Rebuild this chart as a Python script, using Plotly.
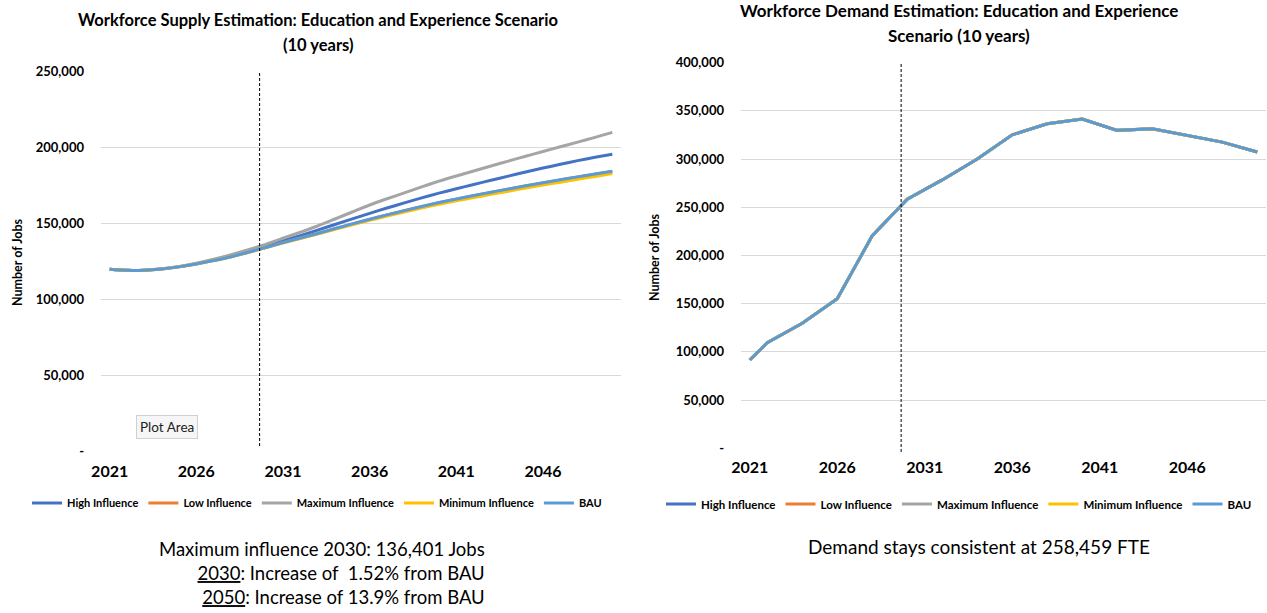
import plotly.graph_objects as go

W, H = 1267, 613

# ---------------- data ----------------
years = list(range(2021, 2051))
series_names = ["High Influence", "Low Influence", "Maximum Influence", "Minimum Influence", "BAU"]
series_colors = ["#4472C4", "#ED7D31", "#A5A5A5", "#FFC000", "#5B9BD5"]

supply_high = [120000, 119300, 119420, 120280, 121750, 123750, 126200, 128900, 132000, 135400,
               138700, 142200, 145800, 149500, 153200, 156800, 160300, 163700, 167000, 170100,
               173000, 175800, 178600, 181300, 184000, 186600, 189100, 191500, 193700, 195700]
supply_low = [120000, 119300, 119400, 120200, 121600, 123500, 125800, 128300, 131200, 134350,
              137550, 140550, 143550, 146700, 149800, 152800, 155700, 158500, 161200, 163800,
              166100, 168400, 170600, 172700, 174800, 176800, 178800, 180700, 182600, 184400]
supply_max = [120000, 119300, 119450, 120350, 121900, 124000, 126600, 129600, 132900, 136401,
              140400, 144400, 148500, 153100, 157700, 162300, 166400, 170300, 174200, 178000,
              181400, 184700, 188000, 191200, 194400, 197500, 200600, 203700, 206800, 210100]
supply_min = [120000, 119300, 119400, 120200, 121600, 123500, 125800, 128300, 131100, 134200,
              137300, 140300, 143200, 146300, 149300, 152200, 155000, 157700, 160300, 162800,
              165000, 167200, 169300, 171400, 173400, 175400, 177300, 179200, 181100, 183000]
supply_bau = [120000, 119300, 119400, 120200, 121600, 123500, 125800, 128300, 131200, 134359,
              137600, 140600, 143600, 146800, 149900, 152900, 155800, 158600, 161300, 163900,
              166200, 168500, 170700, 172800, 174900, 176900, 178900, 180800, 182700, 184500]

# demand is reported every two years (odd years blank)
demand = [91600, 109600, None, 129700, None, 155200, None, 220500, None, 258459,
          None, 278400, None, 300000, None, 325200, None, 336700, None, 341600,
          None, 329800, None, 331500, None, 324200, None, 317600, None, 307300]

x_tick_years = [2021, 2026, 2031, 2036, 2041, 2046]
x_tick_labels = ["2021", "2026", "2031", "2036", "2041", "2046"]
supply_tick_vals = [0, 50000, 100000, 150000, 200000, 250000]
supply_tick_text = ["-", "50,000", "100,000", "150,000", "200,000", "250,000"]
demand_tick_vals = [0, 50000, 100000, 150000, 200000, 250000, 300000, 350000, 400000]
demand_tick_text = ["-", "50,000", "100,000", "150,000", "200,000", "250,000", "300,000", "350,000", "400,000"]

marker_year = 2029.65

FONT = "Lato"
BLACK = "#000000"


def px(x):
    return x / W


def py(y):
    return 1 - y / H


fig = go.Figure()

supply_sets = [supply_high, supply_low, supply_max, supply_min, supply_bau]
for name, color, vals in zip(series_names, series_colors, supply_sets):
    fig.add_trace(go.Scatter(
        x=years, y=vals, name=name, mode="lines",
        line=dict(color=color, width=3, shape="spline", smoothing=0.6),
        xaxis="x", yaxis="y", legend="legend", hoverinfo="x+y+name"))

for name, color in zip(series_names, series_colors):
    fig.add_trace(go.Scatter(
        x=years, y=demand, name=name, mode="lines", connectgaps=True,
        line=dict(color=color, width=3),
        xaxis="x2", yaxis="y2", legend="legend2", hoverinfo="x+y+name"))

tickfont_x = dict(family=FONT, size=16, color=BLACK, weight="bold")
tickfont_y = dict(family=FONT, size=13, color=BLACK, weight="bold")

common_x = dict(range=[2020.5, 2050.5], tickmode="array", tickvals=x_tick_years, ticktext=x_tick_labels,
                showgrid=False, zeroline=False, showline=False, ticks="", tickfont=tickfont_x,
                ticklabelstandoff=8, fixedrange=True, automargin=False)
common_y = dict(tickmode="array", showgrid=True, gridcolor="#D9D9D9", gridwidth=1, zeroline=False,
                showline=False, ticks="", tickfont=tickfont_y, ticklabelstandoff=16, fixedrange=True,
                automargin=False)

fig.update_layout(
    width=W, height=H,
    margin=dict(l=0, r=0, t=0, b=0, autoexpand=False),
    paper_bgcolor="white", plot_bgcolor="white",
    showlegend=True,
    xaxis=dict(domain=[px(101), px(621)], anchor="y", **common_x),
    yaxis=dict(domain=[py(451.7), py(71.7)], anchor="x", range=[0, 250000],
               tickvals=supply_tick_vals, ticktext=supply_tick_text, **common_y),
    xaxis2=dict(domain=[px(741), px(1266)], anchor="y2", **common_x),
    yaxis2=dict(domain=[py(448.3), py(62.7)], anchor="x2", range=[0, 400000],
                tickvals=demand_tick_vals, ticktext=demand_tick_text, **common_y),
    legend=dict(orientation="h", x=px(27), xanchor="left", y=py(503), yanchor="middle",
                font=dict(family=FONT, size=11, color=BLACK, weight="bold"),
                bgcolor="rgba(0,0,0,0)", itemwidth=30, traceorder="normal"),
    legend2=dict(orientation="h", x=px(661), xanchor="left", y=py(504), yanchor="middle",
                 font=dict(family=FONT, size=11.5, color=BLACK, weight="bold"),
                 bgcolor="rgba(0,0,0,0)", itemwidth=30, traceorder="normal"),
)

# vertical dashed marker lines
fig.add_shape(type="line", xref="x", yref="paper", x0=marker_year, x1=marker_year,
              y0=py(446), y1=py(72), line=dict(color="#000000", width=1, dash="3px,2px"))
fig.add_shape(type="line", xref="x2", yref="paper", x0=marker_year, x1=marker_year,
              y0=py(452), y1=py(63), line=dict(color="#000000", width=1, dash="3px,2px"))

ann = []
title_font = dict(family=FONT, size=16.5, color=BLACK, weight="bold")
ann.append(dict(text="Workforce Supply Estimation: Education and Experience Scenario",
                x=px(318), y=py(20), font=title_font))
ann.append(dict(text="(10 years)", x=px(318), y=py(45), font=title_font))
title_font_r = dict(family=FONT, size=17, color=BLACK, weight="bold")
ann.append(dict(text="Workforce Demand Estimation: Education and Experience",
                x=px(959), y=py(11), font=title_font_r))
ann.append(dict(text="Scenario (10 years)", x=px(959), y=py(35), font=title_font_r))

axis_title_font = dict(family=FONT, size=12.5, color=BLACK, weight="bold")
ann.append(dict(text="Number of Jobs", x=px(17), y=py(262), textangle=-90, font=axis_title_font))
ann.append(dict(text="Number of Jobs", x=px(654), y=py(257), textangle=-90, font=axis_title_font))

note_font = dict(family=FONT, size=18.5, color=BLACK)
ann.append(dict(text="Maximum influence 2030: 136,401 Jobs<br>"
                     "<u>2030</u>: Increase of\u00a0\u00a01.52% from BAU<br>"
                     "<u>2050</u>: Increase of 13.9% from BAU",
                x=px(487), xanchor="right", y=py(573), align="right", font=note_font))
ann.append(dict(text="Demand stays consistent at 258,459 FTE",
                x=px(979), y=py(546), font=dict(family=FONT, size=19, color=BLACK)))

ann.append(dict(text="Plot Area", x=px(167), y=py(427),
                font=dict(family=FONT, size=13.5, color="#222222"),
                bgcolor="#F6F6F6", bordercolor="#D0D0D0", borderwidth=1, borderpad=3))

for a in ann:
    a.setdefault("xref", "paper")
    a.setdefault("yref", "paper")
    a.setdefault("showarrow", False)
    a.setdefault("xanchor", "center")
    a.setdefault("yanchor", "middle")
    fig.add_annotation(**a)

# remove the default page margin so the figure fills the window exactly
fig.write_html("out.html", config={"displayModeBar": False},
               post_script="document.body.style.margin='0';document.body.style.overflow='hidden';")
